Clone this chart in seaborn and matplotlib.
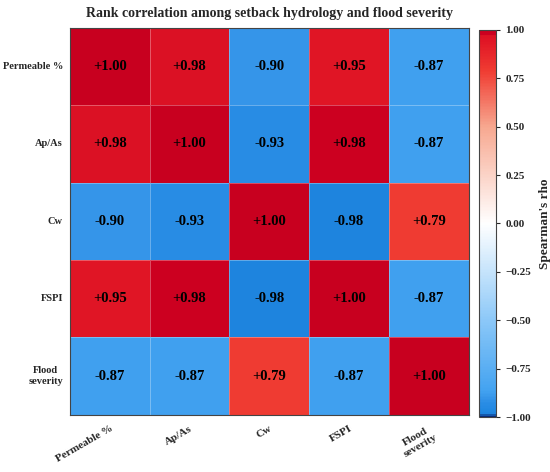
import numpy as np
import pandas as pd
import seaborn as sns
import matplotlib.pyplot as plt
from matplotlib.colors import LinearSegmentedColormap

labels = ["Permeable %", "Ap/As", "Cw", "FSPI", "Flood\nseverity"]
row_perm = [1.00, 0.976, -0.90, 0.95, -0.87]
row_apas = [0.976, 1.00, -0.93, 0.984, -0.87]
row_cw = [-0.90, -0.93, 1.00, -0.98, 0.79]
row_fspi = [0.95, 0.984, -0.98, 1.00, -0.87]
row_flood = [-0.87, -0.87, 0.79, -0.87, 1.00]

corr = pd.DataFrame([row_perm, row_apas, row_cw, row_fspi, row_flood],
                    index=labels, columns=labels)

sns.set_style("white")
plt.rcParams['font.family'] = ['Liberation Serif', 'DejaVu Serif']
plt.rcParams['font.weight'] = 'bold'

# bright blue -> white -> red
nodes = [(0.0, "#0a2a78"), (0.008, "#1e86e0"), (0.035, "#2a8de5"),
         (0.05, "#3897ea"), (0.065, "#42a2f0"), (0.25, "#8cc8f8"),
         (0.5, "#ffffff"), (0.75, "#f7a890"), (0.895, "#f03c32"),
         (0.975, "#e01525"), (0.988, "#dc1224"), (0.992, "#cc0020"),
         (1.0, "#c8001f")]
cmap = LinearSegmentedColormap.from_list("rho", nodes)

fig = plt.figure(figsize=(5.5, 4.72), dpi=100)
ax = fig.add_axes([0.127, 0.121, 0.725, 0.820])
cax = fig.add_axes([0.871, 0.1165, 0.031, 0.820])

annot = corr.map(lambda v: f"{v:+.2f}")
sns.heatmap(corr, ax=ax, cbar_ax=cax, cmap=cmap, vmin=-1, vmax=1,
            annot=annot, fmt="", linewidths=0.5, linecolor=(1, 1, 1, 0.3),
            annot_kws={"fontsize": 10.5, "fontweight": "bold", "color": "black"},
            cbar_kws={"label": "Spearman's rho"})

ax.set_title("Rank correlation among setback hydrology and flood severity",
             fontsize=10, fontweight="bold", pad=8)
ax.set_xticklabels(ax.get_xticklabels(), rotation=30, ha="right",
                   rotation_mode="anchor", fontsize=8, fontweight="bold",
                   multialignment="center")
ax.set_yticklabels(ax.get_yticklabels(), rotation=0, fontsize=7.5,
                   fontweight="bold", multialignment="center")
ax.tick_params(axis="both", length=3, width=0.8, color="#333333")
ax.tick_params(axis="y", pad=2)
for s in ax.spines.values():
    s.set_visible(True)
    s.set_color("#444444")
    s.set_linewidth(0.8)

cb = ax.collections[0].colorbar
ticks = [-1, -0.75, -0.5, -0.25, 0, 0.25, 0.5, 0.75, 1]
cb.set_ticks(ticks)
cb.set_ticklabels([f"{v:.2f}".replace("-", "\u2212") for v in ticks])
cax.tick_params(labelsize=8, length=3, width=0.8)
for t in cax.get_yticklabels():
    t.set_fontweight("bold")
cb.set_label("Spearman's rho", fontsize=9.5, fontweight="bold", labelpad=6)
cb.outline.set_edgecolor("#444444")
cb.outline.set_linewidth(0.8)

fig.savefig("out.png", dpi=100)
